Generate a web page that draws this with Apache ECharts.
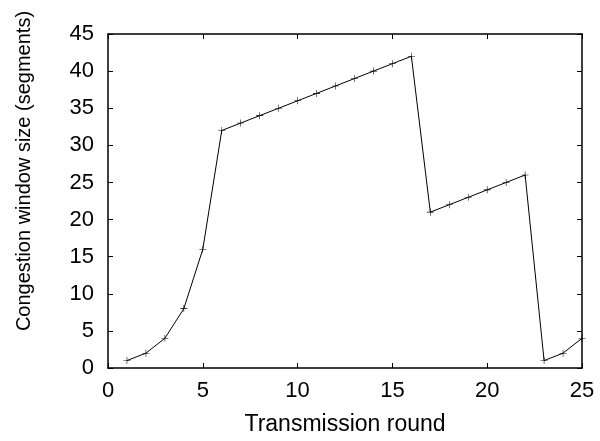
<!DOCTYPE html>
<html>
<head>
<meta charset="utf-8">
<script src="https://cdn.jsdelivr.net/npm/echarts@6/dist/echarts.min.js"></script>
<style>
  html, body { margin: 0; padding: 0; background: #fff; }
  #chart { width: 600px; height: 441px; }
</style>
</head>
<body>
<div id="chart"></div>
<script>
// transmission rounds and congestion window sizes
const rounds = [1, 2, 3, 4, 5, 6, 7, 8, 9, 10, 11, 12, 13, 14, 15, 16, 17, 18, 19, 20, 21, 22, 23, 24, 25]
const cwnd = [1, 2, 4, 8, 16, 32, 33, 34, 35, 36, 37, 38, 39, 40, 41, 42, 21, 22, 23, 24, 25, 26, 1, 2, 4]
const xTicks = [0, 5, 10, 15, 20, 25]
const yTicks = [0, 5, 10, 15, 20, 25, 30, 35, 40, 45]

const font = 'Liberation Sans, Arial, sans-serif'
const plus = 'path://M4.6,0H5.4V4.6H10V5.4H5.4V10H4.6V5.4H0V4.6H4.6Z'

const axisLine = {show: true, onZero: false, lineStyle: {color: '#000', width: 1.5}}
const tick = {show: true, inside: true, length: 5, lineStyle: {color: '#000', width: 1}}

let chart = echarts.init(document.getElementById('chart'))
chart.setOption({
    animation: false,
    backgroundColor: '#fff',
    grid: {left: 108, right: 18, top: 34, bottom: 72},
    xAxis: [{
        type: 'value',
        min: xTicks[0],
        max: xTicks[xTicks.length - 1],
        interval: 5,
        name: 'Transmission round',
        nameLocation: 'middle',
        nameGap: 45,
        nameTextStyle: {fontFamily: font, fontSize: 23, color: '#000'},
        axisLine: axisLine,
        axisTick: tick,
        axisLabel: {fontFamily: font, fontSize: 22, color: '#000', margin: 12},
        splitLine: {show: false}
    }, {
        type: 'value',
        position: 'top',
        min: xTicks[0],
        max: xTicks[xTicks.length - 1],
        interval: 5,
        axisLine: axisLine,
        axisTick: tick,
        axisLabel: {show: false},
        splitLine: {show: false}
    }],
    yAxis: [{
        type: 'value',
        min: yTicks[0],
        max: yTicks[yTicks.length - 1],
        interval: 5,
        name: 'Congestion window size (segments)',
        nameLocation: 'middle',
        nameGap: 74,
        // gnuplot puts this label a bit above the middle
        nameTextStyle: {fontFamily: font, fontSize: 20, color: '#000', padding: [0, 0, 0, 60]},
        axisLine: axisLine,
        axisTick: tick,
        axisLabel: {fontFamily: font, fontSize: 22, color: '#000', margin: 14},
        splitLine: {show: false}
    }, {
        type: 'value',
        position: 'right',
        min: yTicks[0],
        max: yTicks[yTicks.length - 1],
        interval: 5,
        axisLine: axisLine,
        axisTick: tick,
        axisLabel: {show: false},
        splitLine: {show: false}
    }],
    series: [{
        type: 'line',
        data: rounds.map((r, i) => [r, cwnd[i]]),
        symbol: plus,
        symbolSize: 7,
        showAllSymbol: true,
        itemStyle: {color: '#000'},
        lineStyle: {color: '#000', width: 1},
        clip: false
    }]
})
</script>
</body>
</html>
